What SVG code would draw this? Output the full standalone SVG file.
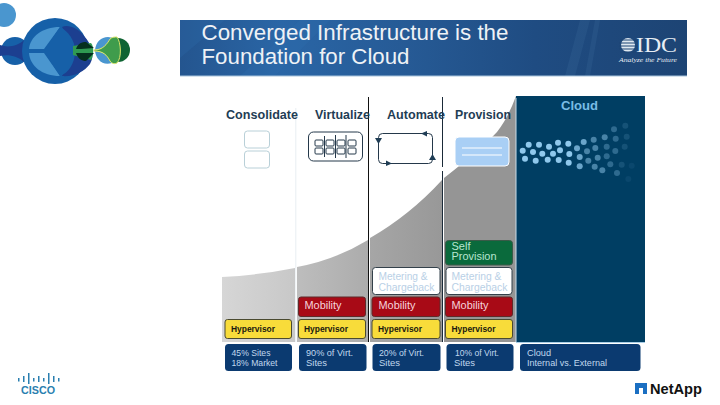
<svg xmlns="http://www.w3.org/2000/svg" width="720" height="405" viewBox="0 0 720 405">
<style>
text{font-family:"Liberation Sans",Arial,sans-serif}
.head{font-size:12px;font-weight:bold;fill:#1f3d55}
.hyp{fill:#f8dc3a;stroke:#4a4a30;stroke-width:1}
.hypt{font-size:9px;font-weight:bold;fill:#1a1a10}
.mob{fill:#a80a16;stroke:#5e2a2a;stroke-width:1}
.mobt{font-size:10px;fill:#f6d4dc}
.met{fill:#fff;stroke:#33404a;stroke-width:1}
.mett{font-size:10px;fill:#b9d0e6}
.blue{fill:#0b3a70}
.bluet{font-size:9.500px;fill:#c0d8ee}
.dot{fill:#8fc8ec}
.dot circle{r:3px}
.o1{opacity:1}.o2{opacity:.75}.o3{opacity:.5}.o4{opacity:.32}.o5{opacity:.15}.o6{opacity:.07}
.b1{fill:#1660a8}.b2{fill:#4a96cf}.b3{fill:#1c3f90}
.ic{fill:none;stroke:#24384a;stroke-width:1}
.arr{fill:#1f3d55}
.cb{fill:#2a7fb0}
</style>
<defs>
<linearGradient id="hdr" x1="0" x2="1" y1="0" y2="0">
<stop offset="0" stop-color="#24558f"/><stop offset=".2" stop-color="#2a66a6"/><stop offset=".45" stop-color="#265a95"/><stop offset=".7" stop-color="#1f4c82"/><stop offset="1" stop-color="#1d4474"/>
</linearGradient>
<linearGradient id="c1" x1="0" x2="1" y1="0" y2="0"><stop offset="0" stop-color="#d6d6d6"/><stop offset="1" stop-color="#c8c8c8"/></linearGradient>
<linearGradient id="c2" x1="0" x2="1" y1="0" y2="0"><stop offset="0" stop-color="#bdbdbd"/><stop offset="1" stop-color="#acacac"/></linearGradient>
<linearGradient id="c3" x1="0" x2="1" y1="0" y2="0"><stop offset="0" stop-color="#a6a6a6"/><stop offset="1" stop-color="#989898"/></linearGradient>
</defs>

<g id="bubbles">
<circle class="b2" cx="4" cy="15" r="12"/>
<circle class="b1" cx="15" cy="51" r="14"/>
<path class="b3" d="M0 45C8 48 18 46 24 40C28 44 29 49 29 51C29 54 28 58 24 62C18 56 8 54 0 56Z"/>
<circle class="b1" cx="55" cy="51" r="33"/>
<path class="b3" d="M62 27C68 24 78 28 84 36C92 44 95 56 90 64C84 72 74 77 62 76L75 51Z"/>
<path class="b2" d="M29 49C30 37 42 27 60 27L44 49Z"/>
<path class="b2" d="M29 53C30 66 42 76 60 76L44 53Z"/>
<path class="b1" d="M60 27L44 51L60 76C68 73 75 64 75 51C75 40 68 31 60 27Z"/>
<path d="M73 46L91 43C94 46 94 55 91 60L73 55Z" fill="#2f9a52"/>
<path d="M76 49C78 43 82 42 86 42L94 48L81 49ZM76 53H94L86 61C82 61 78 59 76 53Z" fill="#06301f"/>
<path class="b2" d="M95 50C96 42 101 37 108 37C110 37 112 38 113 38C110 44 106 48 95 50Z"/>
<path class="b2" d="M95 51C106 52 110 58 112 63C102 66 96 59 95 51Z"/>
<circle cx="118" cy="50" r="12" fill="#0f6433"/>
<path d="M94 50C103 50 107 44 110 39C112 37 115 37 117 37C121 42 122 58 117 63C115 64 112 64 110 61C107 55 103 51 94 51Z" fill="#3f9c4c" stroke="#dfe66a" stroke-width="1"/>
</g>

<g id="header">
<rect x="180" y="20" width="507" height="56" fill="url(#hdr)"/>
<path d="M180 20H225L180 58ZM240 76L300 20H330L275 76Z" fill="#2f6fae" opacity=".25"/>
<path d="M580 20L565 76H575L590 20ZM595 20L585 76H590L600 20Z" fill="#3a6a9c" opacity=".25"/>
<rect x="180" y="75.500" width="507" height="1" fill="#a8c4dc"/>
<text x="201.500" y="39.500" font-size="21.500" fill="#eef2f6" textLength="307" lengthAdjust="spacingAndGlyphs">Converged Infrastructure is the</text>
<text x="201.500" y="64" font-size="21.500" fill="#eef2f6" textLength="208" lengthAdjust="spacingAndGlyphs">Foundation for Cloud</text>
</g>

<g id="idc-logo" fill="#e8eef4">
<circle cx="628" cy="45" r="7" fill="#dfe8f0"/>
<path d="M620 40H636M619 43H637M619 46H637M619 49H637M620 52H636" stroke="#1d4474" stroke-width="1"/>
<text x="636" y="52" font-size="21" style="font-family:'Liberation Serif',serif" textLength="41" lengthAdjust="spacingAndGlyphs">IDC</text>
<text x="619" y="62" font-size="7" font-style="italic" style="font-family:'Liberation Serif',serif" textLength="58" lengthAdjust="spacingAndGlyphs">Analyze the Future</text>
</g>

<g id="chart">
<path d="M222 277Q260 275 295 268V342H222Z" fill="url(#c1)"/>
<path d="M297 267Q335 260 368 240V342H297Z" fill="url(#c2)"/>
<path d="M370 238Q410 215 442 180V342H370Z" fill="url(#c3)"/>
<path d="M444 178Q480 150 497 132Q508 118 516 96V342H444Z" fill="#959595"/>
<rect x="516" y="96" width="129" height="246" fill="#003e63"/>
<rect x="516" y="342" width="129" height="1" fill="#a9cde6"/>
</g>

<g id="connectors" fill="none">
<path d="M368.500 97V342" stroke="#111" stroke-width="1"/>
<path d="M442.500 97V167M442.500 171V342" stroke="#1a2a38" stroke-width="1"/>
<path d="M295.800 108V342" stroke="#e8eef2" stroke-width="1"/>
<path d="M516 98V342" stroke="#c8dcea" stroke-width="1"/>
</g>

<g id="heads">
<text class="head" x="226" y="119" textLength="72" lengthAdjust="spacingAndGlyphs">Consolidate</text>
<text class="head" x="315" y="119" textLength="55" lengthAdjust="spacingAndGlyphs">Virtualize</text>
<text class="head" x="387" y="119" textLength="58" lengthAdjust="spacingAndGlyphs">Automate</text>
<text class="head" x="455" y="119" textLength="56" lengthAdjust="spacingAndGlyphs">Provision</text>
<text x="561" y="110" font-size="13" font-weight="bold" fill="#79bce6" textLength="37" lengthAdjust="spacingAndGlyphs">Cloud</text>
</g>

<g id="icon-consolidate" fill="#fff" stroke="#b9d0d8" stroke-width="1">
<rect x="244.500" y="131" width="25" height="17" rx="3"/>
<rect x="244.500" y="151" width="25" height="17" rx="3"/>
</g>
<g id="icon-virtualize" class="ic">
<rect x="308.500" y="132" width="54" height="29" rx="5"/>
<path d="M324.500 136V157M335.500 135V158M346 135V158"/>
<rect x="315" y="140" width="8" height="6" rx="1"/><rect x="315" y="148" width="8" height="6" rx="1"/>
<rect x="326" y="140" width="8" height="6" rx="1"/><rect x="326" y="148" width="8" height="6" rx="1"/>
<rect x="337" y="140" width="8" height="6" rx="1"/><rect x="337" y="148" width="8" height="6" rx="1"/>
<rect x="348" y="140" width="8" height="6" rx="1"/><rect x="348" y="148" width="8" height="6" rx="1"/>
</g>
<g id="icon-automate">
<rect x="378.500" y="133.500" width="54" height="30" rx="4" class="ic"/>
<path class="arr" d="M375 138H382L378.500 144ZM421 133.500L427 131V136.500ZM432.500 154L436 160H429ZM392 163.500L386 160.500V166Z"/>
</g>
<g id="icon-provision">
<rect x="455" y="137" width="54" height="29" rx="4" fill="#a9cff5" stroke="#fff" stroke-width="1"/>
<path d="M462 148H502M462 155H502" stroke="#fff" stroke-width="1" fill="none"/>
</g>

<g id="cloud-dots" class="dot">
<circle class="o1" cx="528.700" cy="144.700" r="3"/><circle class="o1" cx="539" cy="144.700" r="3"/><circle class="o1" cx="549" cy="146.700" r="3"/><circle class="o1" cx="558" cy="142.700" r="3"/><circle class="o1" cx="568.300" cy="143.700" r="3"/>
<circle class="o2" cx="583.700" cy="142" r="3"/><circle class="o3" cx="593.700" cy="139.700" r="3"/><circle class="o3" cx="604.700" cy="137.300" r="3"/><circle class="o4" cx="614" cy="129.300" r="3"/><circle class="o5" cx="625.300" cy="125.700" r="3"/>
<circle class="o1" cx="522.700" cy="150.700" r="3"/><circle class="o1" cx="533" cy="152" r="3"/><circle class="o1" cx="542.300" cy="153.700" r="3"/><circle class="o1" cx="553" cy="153.700" r="3"/><circle class="o1" cx="560" cy="150.300" r="3"/><circle class="o1" cx="569.300" cy="154" r="3"/>
<circle class="o2" cx="577" cy="148.300" r="3"/><circle class="o3" cx="587" cy="151.300" r="3"/><circle class="o3" cx="595.300" cy="148" r="3"/><circle class="o4" cx="606.700" cy="146.700" r="3"/><circle class="o4" cx="615.700" cy="138.700" r="3"/><circle class="o5" cx="626.700" cy="136.700" r="3"/>
<circle class="o1" cx="525" cy="158.700" r="3"/><circle class="o1" cx="535.700" cy="160.700" r="3"/><circle class="o1" cx="547.700" cy="159.700" r="3"/><circle class="o1" cx="558.700" cy="160" r="3"/><circle class="o1" cx="568.700" cy="162.700" r="3"/>
<circle class="o2" cx="579.700" cy="157" r="3"/><circle class="o3" cx="588.300" cy="160.700" r="3"/><circle class="o3" cx="597.700" cy="157.700" r="3"/><circle class="o4" cx="606.700" cy="156.300" r="3"/><circle class="o4" cx="615.300" cy="151" r="3"/><circle class="o5" cx="624.700" cy="146.700" r="3"/>
<circle class="o2" cx="579.700" cy="166.300" r="3"/><circle class="o3" cx="594.700" cy="166.700" r="3"/><circle class="o3" cx="602.300" cy="170.300" r="3"/><circle class="o4" cx="610.300" cy="164.300" r="3"/><circle class="o5" cx="621.700" cy="164.700" r="3"/><circle class="o4" cx="617" cy="173" r="3"/><circle class="o6" cx="628.300" cy="179" r="3"/><circle class="o6" cx="631.700" cy="165.700" r="3"/>
</g>

<g id="col1-hypervisor"><rect class="hyp" x="225" y="319.500" width="66.500" height="19" rx="2.500"/><text class="hypt" x="231" y="331.500" textLength="44" lengthAdjust="spacingAndGlyphs">Hypervisor</text></g>
<g id="col2-hypervisor"><rect class="hyp" x="298.500" y="319.500" width="67" height="19" rx="2.500"/><text class="hypt" x="304" y="331.500" textLength="44" lengthAdjust="spacingAndGlyphs">Hypervisor</text></g>
<g id="col3-hypervisor"><rect class="hyp" x="372" y="319.500" width="68" height="19" rx="2.500"/><text class="hypt" x="378" y="331.500" textLength="44" lengthAdjust="spacingAndGlyphs">Hypervisor</text></g>
<g id="col4-hypervisor"><rect class="hyp" x="445.500" y="319.500" width="67" height="19" rx="2.500"/><text class="hypt" x="451.500" y="331.500" textLength="44" lengthAdjust="spacingAndGlyphs">Hypervisor</text></g>

<g id="col2-mobility"><rect class="mob" x="298.500" y="297" width="67" height="19.500" rx="2.500"/><text class="mobt" x="304.500" y="309" textLength="37" lengthAdjust="spacingAndGlyphs">Mobility</text></g>
<g id="col3-mobility"><rect class="mob" x="372" y="297" width="68" height="19.500" rx="2.500"/><text class="mobt" x="378.500" y="309" textLength="37" lengthAdjust="spacingAndGlyphs">Mobility</text></g>
<g id="col4-mobility"><rect class="mob" x="445.500" y="297" width="67" height="19.500" rx="2.500"/><text class="mobt" x="451.500" y="309" textLength="37" lengthAdjust="spacingAndGlyphs">Mobility</text></g>

<g id="col3-metering"><rect class="met" x="372.500" y="267.500" width="67.500" height="27" rx="3"/><text class="mett" x="378.500" y="280" textLength="49" lengthAdjust="spacingAndGlyphs">Metering &amp;</text><text class="mett" x="378.500" y="291" textLength="56" lengthAdjust="spacingAndGlyphs">Chargeback</text></g>
<g id="col4-metering"><rect class="met" x="446" y="267.500" width="66" height="27" rx="3"/><text class="mett" x="451.500" y="280" textLength="50" lengthAdjust="spacingAndGlyphs">Metering &amp;</text><text class="mett" x="451.500" y="291" textLength="56" lengthAdjust="spacingAndGlyphs">Chargeback</text></g>

<g id="col4-self-provision"><rect x="445.500" y="240.500" width="67" height="24.500" rx="3" fill="#0a6a3c" stroke="#3a5a48" stroke-width="1"/><text x="451.500" y="249.500" font-size="10" fill="#b8e6d0" textLength="19" lengthAdjust="spacingAndGlyphs">Self</text><text x="451.500" y="260" font-size="10" fill="#b8e6d0" textLength="45" lengthAdjust="spacingAndGlyphs">Provision</text></g>

<g id="stat-1"><rect class="blue" x="225" y="344" width="67" height="27" rx="3.500"/><text class="bluet" x="231.500" y="356" textLength="39" lengthAdjust="spacingAndGlyphs">45% Sites</text><text class="bluet" x="231.500" y="365.500" textLength="46" lengthAdjust="spacingAndGlyphs">18% Market</text></g>
<g id="stat-2"><rect class="blue" x="299" y="344" width="67.500" height="27" rx="3.500"/><text class="bluet" x="306" y="356" textLength="47" lengthAdjust="spacingAndGlyphs">90% of Virt.</text><text class="bluet" x="306" y="365.500" textLength="21" lengthAdjust="spacingAndGlyphs">Sites</text></g>
<g id="stat-3"><rect class="blue" x="372.500" y="344" width="68" height="27" rx="3.500"/><text class="bluet" x="379" y="356" textLength="45" lengthAdjust="spacingAndGlyphs">20% of Virt.</text><text class="bluet" x="379" y="365.500" textLength="21" lengthAdjust="spacingAndGlyphs">Sites</text></g>
<g id="stat-4"><rect class="blue" x="446.500" y="344" width="67" height="27" rx="3.500"/><text class="bluet" x="455" y="356" textLength="44" lengthAdjust="spacingAndGlyphs">10% of Virt.</text><text class="bluet" x="454" y="365.500" textLength="21" lengthAdjust="spacingAndGlyphs">Sites</text></g>
<g id="stat-cloud"><rect class="blue" x="520" y="344" width="120.500" height="27" rx="3.500"/><text class="bluet" x="527" y="356" textLength="24" lengthAdjust="spacingAndGlyphs">Cloud</text><text class="bluet" x="527" y="365.500" textLength="80" lengthAdjust="spacingAndGlyphs">Internal vs. External</text></g>

<g id="cisco-logo">
<rect class="cb" x="18" y="378" width="1.500" height="3.500"/><rect class="cb" x="23" y="376" width="1.500" height="6"/><rect class="cb" x="28" y="373" width="1.500" height="11"/><rect class="cb" x="33" y="378" width="1.500" height="3.500"/><rect class="cb" x="38" y="376" width="1.500" height="6"/><rect class="cb" x="43" y="378" width="1.500" height="3.500"/><rect class="cb" x="48" y="373" width="1.500" height="11"/><rect class="cb" x="53" y="376" width="1.500" height="6"/><rect class="cb" x="58" y="378" width="1.500" height="3.500"/>
<text x="21" y="394" font-size="10" font-weight="bold" fill="#2a7fb0" textLength="34" lengthAdjust="spacingAndGlyphs">CISCO</text>
</g>
<g id="netapp-logo">
<rect x="635" y="383" width="12" height="11" fill="#1b6fc2"/>
<rect x="639" y="388" width="4" height="6" fill="#fff"/>
<text x="650" y="394" font-size="14.500" font-weight="bold" fill="#111" textLength="52" lengthAdjust="spacingAndGlyphs">NetApp</text>
</g>
</svg>
